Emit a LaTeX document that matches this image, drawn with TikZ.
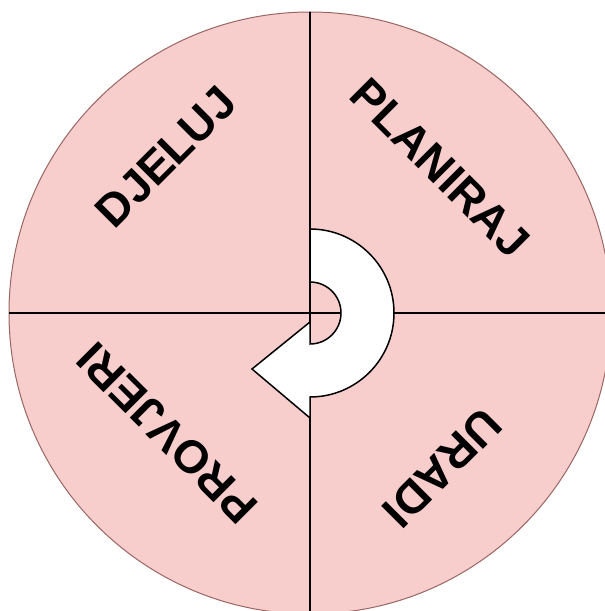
\documentclass[tikz,border=0pt]{standalone}
\usepackage{fontspec}
\setmainfont{Liberation Sans}
\definecolor{wedge}{HTML}{F8CECC}
\definecolor{rim}{HTML}{9A6664}
\tikzset{
  lbl/.style={font=\bfseries\fontsize{46}{46}\selectfont, inner sep=0pt},
  divider/.style={line width=1.8pt, black},
  turnarrow/.style={fill=white, draw=black, line width=1.5pt, line join=miter}
}
\begin{document}
\begin{tikzpicture}[x=1pt,y=1pt]
\useasboundingbox (0,0) rectangle (605,611);
\begin{scope}
\clip (0,0) rectangle (605,611);
\coordinate (c) at (310,298);
\fill[wedge, draw=rim, line width=1pt] (c) circle (301);
\coordinate (top) at (310,599);
\coordinate (bot) at (310,0);
\coordinate (lft) at (9,298);
\coordinate (rgt) at (605,298);
\draw[divider] (top) -- (bot);
\draw[divider] (lft) -- (rgt);
\end{scope}
\draw[turnarrow] (310,214) arc[start angle=-90, end angle=90, radius=84]
  -- (310,329) arc[start angle=90, end angle=-90, radius=31]
  -- (310,289) -- (252,242) -- (310,193) -- cycle;
\node[lbl, rotate=45] (djeluj) at (166,454) {DJELUJ};
\node[lbl, rotate=-45] (planiraj) at (440,443) {PLANIRAJ};
\node[lbl, rotate=135] (provjeri) at (167,178) {PROVJERI};
\node[lbl, rotate=-135] (uradi) at (442,143) {URADI};
\end{tikzpicture}
\end{document}
